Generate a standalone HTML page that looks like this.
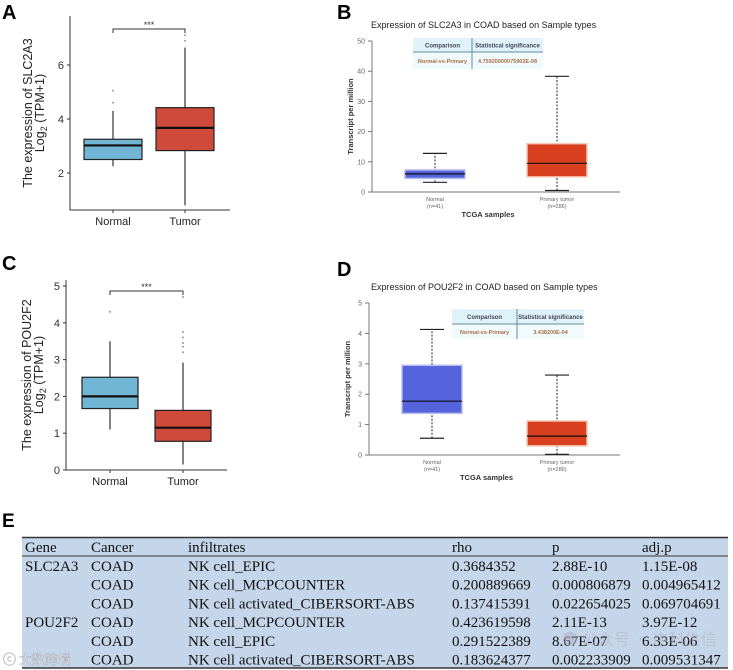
<!DOCTYPE html>
<html><head><meta charset="utf-8">
<style>
html,body{margin:0;padding:0;background:#fff;}
svg{display:block;font-family:"Liberation Sans",Arial,sans-serif;}
.tbl text{font-family:"Liberation Serif","Times New Roman",serif;font-size:15px;fill:#111;}
</style></head>
<body>
<svg id="fig" width="733" height="670" viewBox="0 0 733 670" xmlns="http://www.w3.org/2000/svg">
<g id="root"></g>
</svg>
<script>
// ---------- data ----------
const groups = ["Normal", "Tumor"];
// Panel A (SLC2A3 log2 TPM+1): [lowWhisker, q1, median, q3, highWhisker]
const aNormal = [2.25, 2.5, 3.02, 3.25, 4.3];
const aTumor = [0.8, 2.83, 3.67, 4.42, 6.65];
const aNormalOut = [4.6, 5.05];
const aTumorOut = [6.9, 7.1];
const aTicks = [2, 4, 6];
// Panel C (POU2F2 log2 TPM+1)
const cNormal = [1.1, 1.67, 2.0, 2.52, 3.5];
const cTumor = [0.15, 0.78, 1.15, 1.62, 2.92];
const cNormalOut = [4.3];
const cTumorOut = [3.2, 3.35, 3.45, 3.6, 3.75, 4.7];
const cTicks = [0, 1, 2, 3, 4, 5];
// Panel B (SLC2A3 TPM, UALCAN)
const ualGroups = ["Normal", "Primary tumor"];
const ualN = ["(n=41)", "(n=286)"];
const bNormal = [3.2, 4.5, 6.0, 7.3, 12.8];
const bTumor = [0.5, 5.0, 9.5, 16.0, 38.3];
const bTicks = [0, 10, 20, 30, 40, 50];
const bP = "4.75920000075902E-08";
// Panel D (POU2F2 TPM)
const dNormal = [0.55, 1.37, 1.77, 2.95, 4.13];
const dTumor = [0.02, 0.3, 0.62, 1.12, 2.63];
const dTicks = [0, 1, 2, 3, 4, 5];
const dP = "3.438200E-04";
// Table E
const tHeader = ["Gene", "Cancer", "infiltrates", "rho", "p", "adj.p"];
const tRows = [
 ["SLC2A3","COAD","NK cell_EPIC","0.3684352","2.88E-10","1.15E-08"],
 ["","COAD","NK cell_MCPCOUNTER","0.200889669","0.000806879","0.004965412"],
 ["","COAD","NK cell activated_CIBERSORT-ABS","0.137415391","0.022654025","0.069704691"],
 ["POU2F2","COAD","NK cell_MCPCOUNTER","0.423619598","2.11E-13","3.97E-12"],
 ["","COAD","NK cell_EPIC","0.291522389","8.67E-07","6.33E-06"],
 ["","COAD","NK cell activated_CIBERSORT-ABS","0.183624377","0.002233909","0.009531347"]
];

// ---------- helpers ----------
const NS = "http://www.w3.org/2000/svg";
const root = document.getElementById("root");
function el(tag, attrs, parent, txt){
  const e = document.createElementNS(NS, tag);
  for (const k in attrs) e.setAttribute(k, attrs[k]);
  if (txt !== undefined) e.textContent = txt;
  (parent || root).appendChild(e);
  return e;
}
function lin(d0,d1,r0,r1){return v=>r0+(v-d0)*(r1-r0)/(d1-d0);}

function ggPanel(o){
  const g = el("g",{});
  
  
  const y = lin(o.v0,o.v1,o.y0,o.y1);
  const x = i => o.xs[i];
  const lbl = el("text",{x:o.lx,y:o.ly,"font-size":20,"font-weight":"bold",fill:"#000"},g,o.letter);
  
  
  const ax = el("path",{d:`M${o.ax},${o.top} V${o.bot} H${o.axr}`,stroke:"#333",fill:"none","stroke-width":1},g);
  
  
  o.ticks.forEach(t=>{
    el("line",{x1:o.ax-3,x2:o.ax,y1:y(t),y2:y(t),stroke:"#333"},g);
    const tl = el("text",{x:o.ax-6,y:y(t)+4,"font-size":11,"text-anchor":"end",fill:"#333"},g,t);
    
    
  });
  const yt = el("text",{transform:`translate(${o.ylx},${(o.top+o.bot)/2}) rotate(-90)`,"font-size":12.5,"text-anchor":"middle",fill:"#222"},g);
  
  
  el("tspan",{x:0,dy:0},yt,o.ytitle);
  el("tspan",{x:0,dy:12},yt,"Log");
  el("tspan",{"font-size":9,dy:3},yt,"2");
  el("tspan",{dy:-3},yt," (TPM+1)");
  const sets=[o.normal,o.tumor], outs=[o.nOut,o.tOut], cols=["#72b6d5","#cf4a3a"];
  sets.forEach((s,i)=>{
    const cx=x(i), hw=o.hw;
    el("line",{x1:cx,x2:cx,y1:y(s[0]),y2:y(s[4]),stroke:"#333","stroke-width":1.2},g);
    const b=el("rect",{x:cx-hw,y:y(s[3]),width:2*hw,height:y(s[1])-y(s[3]),fill:cols[i],stroke:"#222","stroke-width":1.2},g);
    
    
    el("line",{x1:cx-hw,x2:cx+hw,y1:y(s[2]),y2:y(s[2]),stroke:"#111","stroke-width":2.2},g);
    outs[i].forEach(v=>{
      const c=el("circle",{cx:cx,cy:y(v),r:1,fill:"#999"},g);
      
      
    });
    el("line",{x1:cx,x2:cx,y1:o.bot,y2:o.bot+3,stroke:"#333"},g);
    const xl=el("text",{x:cx,y:o.bot+15,"font-size":11,"text-anchor":"middle",fill:"#222"},g,groups[i]);
    
    
  });
  const br=el("path",{d:`M${x(0)},${o.brY+4} V${o.brY} H${x(1)} V${o.brY+4}`,stroke:"#333",fill:"none"},g);
  
  
  const st=el("text",{x:(x(0)+x(1))/2,y:o.brY-1,"font-size":9,"text-anchor":"middle",fill:"#333"},g,"***");
  
  
}

ggPanel({name:"panel-a",letter:"A",lx:2,ly:19,v0:2,v1:6,y0:173,y1:65,top:16,bot:210,ax:70,axr:230,
  xs:[113,185],hw:29,ticks:aTicks,ylx:32,ytitle:"The expression of SLC2A3",normal:aNormal,tumor:aTumor,
  nOut:aNormalOut,tOut:aTumorOut,brY:29});
ggPanel({name:"panel-c",letter:"C",lx:2,ly:270,v0:0,v1:5,y0:470,y1:286,top:280,bot:470,ax:66,axr:227,
  xs:[110,183],hw:28,ticks:cTicks,ylx:31,ytitle:"The expression of POU2F2",normal:cNormal,tumor:cTumor,
  nOut:cNormalOut,tOut:cTumorOut,brY:291});

function ualPanel(o){
  const g = el("g",{});
  
  
  const y = lin(o.v0,o.v1,o.y0,o.y1);
  const lbl=el("text",{x:o.lx,y:o.ly,"font-size":20,"font-weight":"bold",fill:"#000"},g,o.letter);
  
  
  const tt=el("text",{x:o.tx,y:o.ty,"font-size":9,fill:"#222"},g,o.title);
  
  
  const top=y(o.ticks[o.ticks.length-1]);
  const ax=el("path",{d:`M${o.ax},${top} V${o.y0} H${o.axr}`,stroke:"#777",fill:"none"},g);
  
  
  o.ticks.forEach(t=>{
    el("line",{x1:o.ax-4,x2:o.ax,y1:y(t),y2:y(t),stroke:"#777"},g);
    const tl=el("text",{x:o.ax-7,y:y(t)+2.5,"font-size":7,"text-anchor":"end",fill:"#666"},g,t);
    
    
  });
  const yt=el("text",{transform:`translate(${o.ax-19},${(top+o.y0)/2}) rotate(-90)`,"font-size":7.5,"font-weight":"bold","text-anchor":"middle",fill:"#333"},g,"Transcript per million");
  
  
  const xt=el("text",{x:(o.ax+o.axr)/2-8,y:o.y0+25,"font-size":7.5,"font-weight":"bold","text-anchor":"middle",fill:"#333"},g,"TCGA samples");
  
  
  const sets=[o.normal,o.tumor], cols=["#5563dc","#d8401f"], halos=["#b7bdf0","#f7c8b4"];
  sets.forEach((s,i)=>{
    const cx=o.xs[i];
    el("line",{x1:cx,x2:cx,y1:y(s[0]),y2:y(s[4]),stroke:"#222","stroke-dasharray":"2,1.5"},g);
    el("line",{x1:cx-12,x2:cx+12,y1:y(s[0]),y2:y(s[0]),stroke:"#222","stroke-width":1.2},g);
    el("line",{x1:cx-12,x2:cx+12,y1:y(s[4]),y2:y(s[4]),stroke:"#222","stroke-width":1.2},g);
    const b=el("rect",{x:cx-30,y:y(s[3]),width:60,height:y(s[1])-y(s[3]),fill:cols[i],stroke:halos[i],"stroke-width":1.5},g);
    
    
    el("line",{x1:cx-30,x2:cx+30,y1:y(s[2]),y2:y(s[2]),stroke:"#111","stroke-width":1.2},g);
    const xl=el("text",{x:cx,y:o.y0+9,"font-size":5.5,"text-anchor":"middle",fill:"#666"},g,ualGroups[i]);
    
    
    el("text",{x:cx,y:o.y0+16,"font-size":5.5,"text-anchor":"middle",fill:"#666"},g,ualN[i]);
  });
  const T=o.tb;
  const tg=el("g",{},g);
  
  
  el("rect",{x:T.x,y:T.y,width:T.w,height:T.h1,fill:"#dff3f9"},tg);
  el("rect",{x:T.x,y:T.y+T.h1,width:T.w,height:T.h2,fill:"#f1fafc"},tg);
  el("line",{x1:T.x,x2:T.x+T.w,y1:T.y+T.h1,y2:T.y+T.h1,stroke:"#6a8a96"},tg);
  el("line",{x1:T.s,x2:T.s,y1:T.y,y2:T.y+T.h1+T.h2,stroke:"#6a8a96"},tg);
  el("text",{x:(T.x+T.s)/2,y:T.y+T.h1/2+2.5,"font-size":6,"font-weight":"bold","text-anchor":"middle",fill:"#445"},tg,"Comparison");
  el("text",{x:(T.s+T.x+T.w)/2,y:T.y+T.h1/2+2.5,"font-size":6,"font-weight":"bold","text-anchor":"middle",fill:"#445"},tg,"Statistical significance");
  el("text",{x:(T.x+T.s)/2,y:T.y+T.h1+T.h2/2+2.5,"font-size":5.5,"font-weight":"bold","text-anchor":"middle",fill:"#a8704a"},tg,"Normal-vs-Primary");
  el("text",{x:(T.s+T.x+T.w)/2,y:T.y+T.h1+T.h2/2+2.5,"font-size":5.5,"font-weight":"bold","text-anchor":"middle",fill:"#a8704a"},tg,o.p);
}
ualPanel({name:"panel-b",letter:"B",lx:337,ly:19,tx:371,ty:28,title:"Expression of SLC2A3 in COAD based on Sample types",
  v0:0,v1:50,y0:192,y1:41,ax:372,axr:620,xs:[435,557],ticks:bTicks,normal:bNormal,tumor:bTumor,p:bP,
  tb:{x:413,y:38,w:130,h1:14,h2:17,s:472}});
ualPanel({name:"panel-d",letter:"D",lx:337,ly:276,tx:371,ty:290,title:"Expression of POU2F2 in COAD based on Sample types",
  v0:0,v1:5,y0:455,y1:303,ax:369,axr:620,xs:[432,557],ticks:dTicks,normal:dNormal,tumor:dTumor,p:dP,
  tb:{x:452,y:309,w:132,h1:15,h2:15,s:517}});

(function(){
  const g=el("g",{class:"tbl"});
  
  
  const L=el("text",{x:2,y:527,"font-size":19,"font-weight":"bold",fill:"#000"},root,"E");
  
  
  el("rect",{x:22,y:537,width:706,height:131,fill:"#c6d6ea"},g);
  el("line",{x1:22,x2:728,y1:537.5,y2:537.5,stroke:"#333","stroke-width":1.6},g);
  el("line",{x1:22,x2:728,y1:556,y2:556,stroke:"#333","stroke-width":0.9},g);
  el("line",{x1:22,x2:728,y1:668,y2:668,stroke:"#333","stroke-width":1.6},g);
  const cx=[25,91,188,452,552,642];
  tHeader.forEach((h,i)=>{
    const t=el("text",{x:cx[i],y:552},g,h);
    
    
  });
  tRows.forEach((r,ri)=>{
    r.forEach((c,ci)=>{
      if(!c) return;
      const t=el("text",{x:cx[ci],y:571+ri*18.7},g,c);
      
      
    });
  });
  const w1=el("text",{x:3,y:664,"font-size":13,fill:"#fff",opacity:0.8,"font-family":"Noto Sans CJK SC, sans-serif",stroke:"#999","stroke-width":0.4},root,"ⓒ 大数跨境");
  
  
  const w2=el("text",{x:562,y:645,"font-size":16,fill:"#aab",opacity:0.45,"font-family":"Noto Sans CJK SC, sans-serif"},root,"● 公众号 · 中科生信");
  
  
})();
</script>
</body></html>
